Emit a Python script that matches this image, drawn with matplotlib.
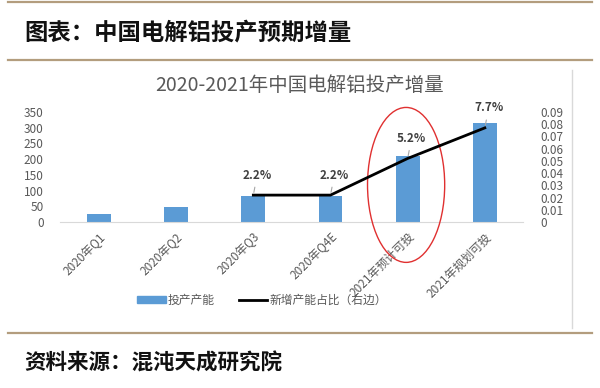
import matplotlib
matplotlib.use("Agg")
import matplotlib.pyplot as plt
from matplotlib.patches import Ellipse
from matplotlib.lines import Line2D
from matplotlib.patches import Patch

plt.rcParams['font.family'] = ['Noto Sans CJK SC', 'DejaVu Sans']

# data
categories = ['2020年Q1', '2020年Q2', '2020年Q3', '2020年Q4E', '2021年预计可投', '2021年规划可投']
capacity = [25, 48, 83, 83, 210, 315]
share_idx = [2, 3, 4, 5]
share = [0.022, 0.022, 0.052, 0.077]
share_labels = ['2.2%', '2.2%', '5.2%', '7.7%']
left_ticks = [0, 50, 100, 150, 200, 250, 300, 350]
right_ticks = [0, 0.01, 0.02, 0.03, 0.04, 0.05, 0.06, 0.07, 0.08, 0.09]

fig = plt.figure(figsize=(6, 3.88), dpi=100)
W, H = 600, 388

# header / footer rules
rule_c = '#b39d7e'
for y in [2, 60, 333]:
    fig.add_artist(Line2D([8 / W, 592 / W], [1 - y / H, 1 - y / H], color=rule_c, lw=1.6))
fig.text(24 / W, 1 - 33 / H, '图表：中国电解铝投产预期增量', fontsize=16.8, fontweight='bold',
         va='center', ha='left', color='#111111')
fig.text(24 / W, 1 - 363 / H, '资料来源：混沌天成研究院', fontsize=15.5, fontstyle='italic',
         fontweight='bold', va='center', ha='left', color='#111111')
# chart box right edge
fig.add_artist(Line2D([572 / W, 572 / W], [1 - 70 / H, 1 - 328 / H], color='#d9d9d9', lw=1))

ax = fig.add_axes([60.4 / W, 1 - 222 / H, 463 / W, 110 / H])
ax2 = ax.twinx()

x = range(len(categories))
ax.bar(x, capacity, width=0.31, color='#5b9bd5', zorder=2)
ax.set_xlim(-0.5, 5.5)
ax.set_ylim(0, 350)
ax.set_yticks(left_ticks)
ax.set_xticks(list(x))
ax.set_xticklabels(categories, rotation=45, ha='right', rotation_mode='anchor', fontsize=8.5, color='#595959')
ax.tick_params(axis='both', length=0, labelsize=8.5, labelcolor='#595959')
ax.tick_params(axis='x', pad=6)
ax.tick_params(axis='y', pad=12)
for s in ['top', 'right', 'left']:
    ax.spines[s].set_visible(False)
ax.spines['bottom'].set_color('#d9d9d9')

ax2.plot(share_idx, share, color='black', lw=2, zorder=3)
ax2.set_ylim(0, 0.09)
ax2.set_yticks(right_ticks)
ax2.set_yticklabels(['0'] + ['%.2f' % t for t in right_ticks[1:]])
ax2.tick_params(axis='y', length=0, labelsize=8.5, labelcolor='#595959', pad=12)
for s in ['top', 'right', 'left', 'bottom']:
    ax2.spines[s].set_visible(False)

for i, v, lab in zip(share_idx, share, share_labels):
    ax2.annotate(lab, xy=(i, v), xytext=(i + 0.05, v + 0.011), fontsize=8.5, color='#404040',
                 ha='center', va='bottom', fontweight='bold',
                 arrowprops=dict(arrowstyle='-', color='#a6a6a6', lw=0.8))

ax.set_zorder(1)
ax2.set_zorder(2)
ax2.patch.set_visible(False)

# red ellipse around the 2021 forecast bar
ell = Ellipse((3.98, 118), 1.0, 493, fill=False, edgecolor='#e03030', lw=1, clip_on=False, zorder=5)
ax.add_patch(ell)

fig.text(300 / W, 1 - 85 / H, '2020-2021年中国电解铝投产增量', fontsize=14, color='#595959',
         ha='center', va='center')

handles = [Patch(color='#5b9bd5'), Line2D([0], [0], color='black', lw=2)]
fig.legend(handles, ['投产产能', '新增产能占比（右边）'], loc='center', bbox_to_anchor=(262 / W, 1 - 300 / H),
           ncol=2, frameon=False, fontsize=8.5, labelcolor='#595959', handlelength=2.4,
           handleheight=0.5, handletextpad=0.2, columnspacing=2.0)

fig.savefig('out.png', dpi=100)
